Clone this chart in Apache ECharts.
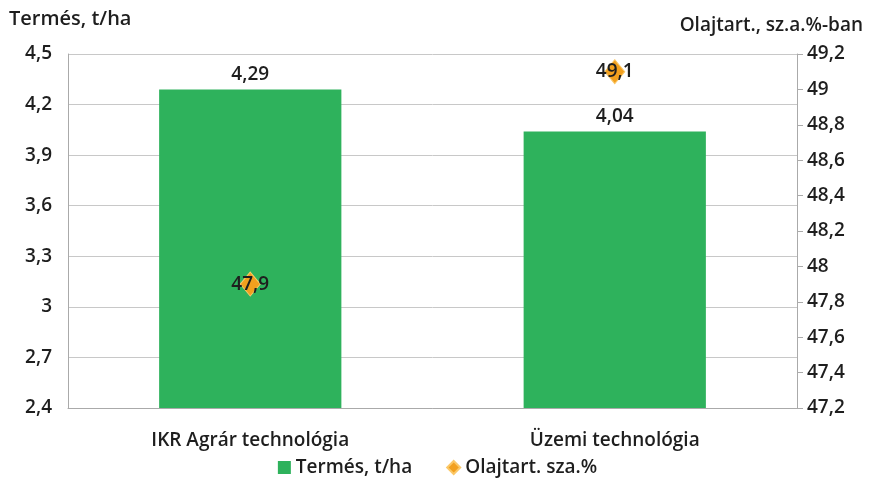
<!DOCTYPE html>
<html>
<head>
<meta charset="utf-8">
<script src="https://cdn.jsdelivr.net/npm/echarts@6/dist/echarts.min.js"></script>
<style>
html, body { margin: 0; padding: 0; background: #fff; }
#chart { width: 875px; height: 490px; }
</style>
</head>
<body>
<div id="chart"></div>
<script>
var categories = ['IKR Agrár technológia', 'Üzemi technológia'];
var yieldValues = [4.29, 4.04];
var oilValues = [47.9, 49.1];

var font = 'Open Sans';
var ink = '#1e1e1e';
var fmt = function (v) { return String(v).replace('.', ','); };

var chart = echarts.init(document.getElementById('chart'));
chart.setOption({
    textStyle: { fontFamily: font },
    animation: false,
    grid: { left: 68, right: 78, top: 54, bottom: 82 },
    graphic: [
        { type: 'text', left: 9, top: 9, style: { text: 'Termés, t/ha', font: '600 20px "Open Sans"', fill: ink } },
        { type: 'text', right: 12, top: 16, style: { text: 'Olajtart., sz.a.%-ban', font: '600 19px "Open Sans"', fill: ink } }
    ],
    legend: {
        bottom: 8,
        left: 'center',
        itemGap: 34,
        itemWidth: 13,
        itemHeight: 13,
        textStyle: { fontSize: 19, fontWeight: 600, color: ink, fontFamily: font },
        data: [
            { name: 'Termés, t/ha', icon: 'rect' },
            { name: 'Olajtart. sza.%', icon: 'diamond' }
        ]
    },
    xAxis: {
        type: 'category',
        data: categories,
        axisLine: { lineStyle: { color: '#aaa' } },
        axisTick: { show: false },
        axisLabel: { fontSize: 19, fontWeight: 600, color: ink, margin: 23 }
    },
    yAxis: [{
        type: 'value',
        min: 2.4, max: 4.5, interval: 0.3,
        axisLine: { show: true, lineStyle: { color: '#aaa' } },
        axisTick: { show: false },
        splitLine: { lineStyle: { color: '#c8c8c8' } },
        axisLabel: { fontSize: 19, fontWeight: 600, color: ink, margin: 16, formatter: function (v) { return fmt(+v.toFixed(1)); } }
    }, {
        type: 'value',
        min: 47.2, max: 49.2, interval: 0.2,
        position: 'right',
        axisLine: { show: true, lineStyle: { color: '#aaa' } },
        axisTick: { show: true, length: 6, lineStyle: { color: '#aaa' } },
        splitLine: { show: false },
        axisLabel: { fontSize: 19, fontWeight: 600, color: ink, margin: 10, formatter: function (v) { return fmt(+v.toFixed(1)); } }
    }],
    series: [{
        name: 'Termés, t/ha',
        type: 'bar',
        data: yieldValues,
        barWidth: '50%',
        itemStyle: { color: '#2eb25c' },
        label: { show: true, position: 'top', fontSize: 19, fontWeight: 600, color: ink, distance: 5, formatter: function (p) { return fmt(p.value); } }
    }, {
        name: 'Olajtart. sza.%',
        type: 'scatter',
        yAxisIndex: 1,
        data: oilValues,
        symbol: 'diamond',
        symbolSize: [20, 24],
        z: 3,
        itemStyle: { color: '#f2a01e', borderColor: '#fbc868', borderWidth: 1, opacity: 1 },
        label: { show: true, position: 'inside', fontSize: 19, fontWeight: 600, color: ink, formatter: function (p) { return fmt(p.value); } }
    }]
});
</script>
</body>
</html>
